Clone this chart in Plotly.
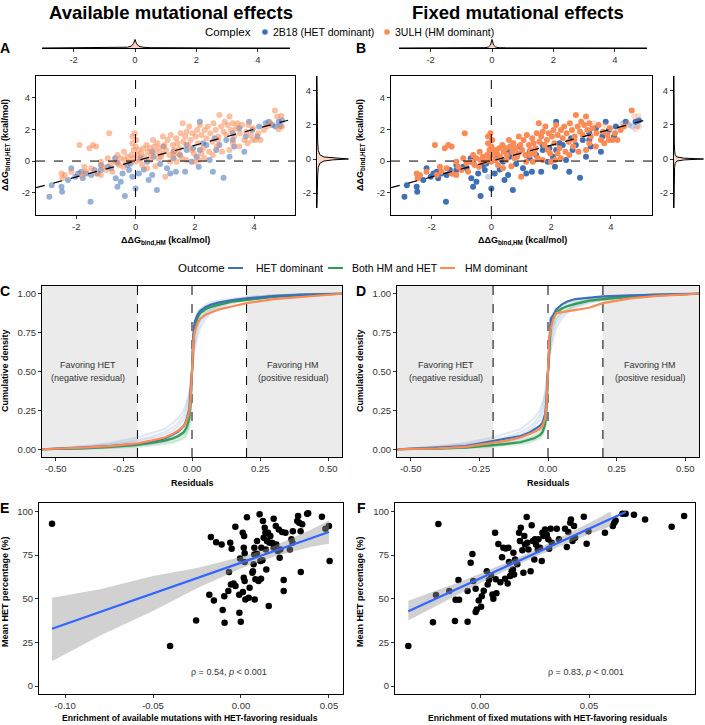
import plotly.graph_objects as go

# ---------------- DATA ----------------
# Panel A/B scatter: ddG_bind,HM (x) vs ddG_bind,HET (y)
blue_x = [-2.91, -2.83, -2.48, -2.5, -2.28, -2.17, -2.03, -1.83, -1.67, -1.52, -1.5, -1.28, -1.17, -0.94, -0.83,
          -0.69, -0.67, -0.61, -0.5, -0.44, -0.36, -0.22, -0.17, -0.11, 0.0, 0.11, 0.28, 0.44, 0.56, 0.72,
          0.83, 1.06, 1.17, 1.28, 1.36, 1.67, 1.72, 1.89, 2.06, 2.13, 2.17, 2.39, 2.5, 2.61, 2.67,
          2.72, 2.97, 3.06, 3.17, 3.28, 3.33, 3.5, 3.67, 3.72, 3.83, 3.94, 4.17, 4.39, 4.5, 4.61,
          4.72, 4.83, 4.94, 4.89, 0.94, 0.61, 1.5, 2.28, -0.28, 0.39, 1.28, 3.28, 2.83, 2.17, 4.11,
          1.72, -1.78, -1.39, -1.94, 0.17, 0.56, -0.61, -1.17, 1.94]
blue_y = [-2.25, -1.52, -1.94, -1.62, -1.2, -0.46, -0.99, -0.67, -0.78, -2.57, -0.88, -0.78, -0.57, -0.36, -0.46,
          0.17, -1.09, -1.62, -1.31, -0.78, -2.21, -0.57, -0.15, -0.99, -1.73, -0.78, -0.53, -1.2, -0.88, -1.83,
          -0.19, -0.46, -0.78, 0.17, -0.67, -0.67, 0.69, -0.04, 0.27, -0.36, 2.48, 1.01, 0.06, -0.67, 1.43,
          0.69, -1.05, 1.33, 0.27, 1.75, 0.91, 2.06, 0.59, 1.54, 2.48, 1.96, 2.17, 2.38, 2.48, 2.27,
          2.17, 2.48, 2.55, 2.21, 0.91, 0.27, 0.38, 1.12, -0.25, -0.04, 0.59, 1.33, 1.01, 0.69, 1.54,
          1.01, -1.09, -0.57, -0.78, 0.17, 0.59, -0.11, -0.25, 0.8]
orange_x = [-2.5, -2.47, -2.39, -2.17, -1.89, -1.83, -1.67, -1.56, -1.44, -1.33, -1.5, -1.33, -1.17, -1.11, -1.0,
            -0.89, -0.83, -0.78, -0.67, -0.56, -0.5, -0.41, -0.37, -0.28, -0.22, -0.14, -0.11, -0.08, -0.03, 0.0,
            0.06, 0.11, 0.14, 0.19, 0.26, 0.3, 0.37, 0.41, 0.48, 0.52, 0.59, 0.63, 0.7, 0.74, 0.81,
            0.86, 0.92, 0.97, 1.03, 1.08, 1.14, 1.19, 1.26, 1.3, 1.37, 1.41, 1.48, 1.52, 1.59, 1.61,
            1.67, 1.72, 1.78, 1.81, 1.86, 1.92, 1.97, 2.0, 2.03, 2.08, 2.11, 2.17, 2.22, 2.28, 2.33,
            2.39, 2.44, 2.48, 2.52, 2.59, 2.63, 2.7, 2.74, 2.79, 2.83, 2.89, 2.92, 2.97, 3.01, 3.06,
            3.11, 3.17, 3.22, 3.28, 3.33, 3.39, 3.44, 3.52, 3.59, 3.67, 3.74, 3.81, 3.89, 3.97, 4.06,
            4.14, 4.22, 4.33, 4.44, 4.56, 4.7, 4.78, 4.92, 4.94, 4.83, 0.39, 0.67, 1.0, 1.17, 1.39,
            1.56, 1.72, 2.14, 2.33, 2.61, 3.17, 3.5, 0.22, 0.5, 0.89, 0.78, 1.28, 1.44, 1.89, 2.22,
            2.78, 3.28, 3.78, 3.94, -0.39, -0.61, -0.94, -1.17, -1.72, -0.06, 0.0, -0.11, 0.03]
orange_y = [-0.78, -1.09, -0.88, -0.67, 1.01, -0.88, -0.67, 0.8, 1.01, 0.91, -0.46, -0.78, -0.88, -0.36, -0.57,
            1.75, -0.15, -0.67, -0.04, -0.25, 0.17, -0.36, 0.06, 0.27, -0.04, 0.38, 1.54, 0.17, 1.75, -0.04,
            0.38, 0.69, 0.06, 0.48, 0.8, 0.27, 1.01, 0.59, 0.8, 0.38, 1.33, 0.91, 0.59, 1.12, 0.8,
            0.27, 1.54, 1.01, 0.69, 1.33, 0.38, 1.64, 1.01, 0.69, 1.43, 1.12, 0.8, 1.75, 2.38, 1.22,
            1.54, 1.85, 1.01, 2.17, 1.33, 1.75, 0.48, -0.04, 1.54, 1.96, 1.12, 2.27, 1.64, 0.8, 1.96,
            1.43, 2.17, 0.59, 1.75, 1.22, 2.38, 1.96, 0.91, 1.54, 2.91, 2.17, 0.59, 1.85, 2.48, 1.64,
            2.27, 2.8, 1.96, 2.38, 1.54, 2.06, 2.38, 1.75, 2.27, 1.33, 1.85, 2.27, 1.64, 2.06, 1.33,
            1.75, 1.33, 1.96, 2.17, 2.38, 3.18, 2.8, 2.84, 2.17, 2.0, -0.46, -0.32, -0.99, -0.04, -0.04,
            0.17, 0.06, 0.06, 0.17, 0.38, 0.69, 0.91, -0.25, 0.06, 0.48, 0.17, 0.38, 0.48, 0.69, 0.48,
            1.33, 1.12, 1.12, 1.33, 0.59, 0.38, 0.17, -0.04, -0.36, 0.69, 0.91, 1.12, 1.33]
# points shown faded in panel B (not fixed)
faded_blue = [23, 57, 59, 60, 63]
faded_orange = [96, 101, 109, 111, 112, 113, 114]
diag_x = [-3.36, 5.38]
diag_y = [-1.68, 2.69]

# marginal densities (residual distributions)
margA_grid_x = [-3.03, -2.0, -1.0, -0.5, -0.25, -0.12, -0.05, 0.0, 0.05, 0.12, 0.25, 0.5, 1.0, 2.0, 3.0, 4.0, 5.05]
margA_grid_y = [-2.88, -2.0, -1.0, -0.5, -0.25, -0.12, -0.05, 0.0, 0.05, 0.12, 0.25, 0.5, 1.0, 2.0, 3.0, 4.0, 4.88]
margA_dens = [0.0, 0.005, 0.02, 0.04, 0.09, 0.22, 0.5, 1.0, 0.5, 0.22, 0.09, 0.04, 0.02, 0.01, 0.005, 0.0, 0.0]
margB_dens = [0.0, 0.003, 0.01, 0.02, 0.04, 0.1, 0.35, 1.0, 0.35, 0.1, 0.04, 0.02, 0.01, 0.005, 0.002, 0.0, 0.0]

# Panels C/D: cumulative density of residuals
resid = [-0.55, -0.5, -0.4, -0.3, -0.2, -0.15, -0.1, -0.07, -0.05, -0.03, -0.02, -0.01, -0.005, 0.0,
         0.005, 0.01, 0.02, 0.03, 0.05, 0.07, 0.1, 0.15, 0.2, 0.3, 0.4, 0.5, 0.55]
C_het = [0, 0.002, 0.01, 0.02, 0.035, 0.05, 0.07, 0.095, 0.115, 0.15, 0.19, 0.26, 0.36, 0.5,
         0.74, 0.82, 0.865, 0.89, 0.915, 0.93, 0.945, 0.96, 0.97, 0.985, 0.993, 0.998, 1.0]
C_both = [0, 0.001, 0.006, 0.015, 0.028, 0.04, 0.055, 0.07, 0.085, 0.11, 0.14, 0.2, 0.3, 0.5,
          0.7, 0.79, 0.845, 0.875, 0.9, 0.915, 0.93, 0.95, 0.96, 0.98, 0.99, 0.997, 1.0]
C_hm = [0, 0.002, 0.01, 0.02, 0.038, 0.055, 0.075, 0.1, 0.12, 0.15, 0.18, 0.24, 0.33, 0.5,
        0.7, 0.76, 0.81, 0.84, 0.865, 0.88, 0.9, 0.92, 0.94, 0.965, 0.98, 0.995, 1.0]
D_het = [0, 0.003, 0.01, 0.02, 0.053, 0.068, 0.085, 0.105, 0.127, 0.15, 0.17, 0.23, 0.33, 0.5,
         0.76, 0.84, 0.865, 0.9, 0.93, 0.95, 0.966, 0.975, 0.983, 0.99, 0.995, 0.999, 1.0]
D_both = [0, 0.001, 0.004, 0.01, 0.025, 0.035, 0.045, 0.058, 0.07, 0.09, 0.11, 0.16, 0.27, 0.5,
          0.7, 0.8, 0.86, 0.88, 0.905, 0.92, 0.935, 0.955, 0.965, 0.98, 0.99, 0.998, 1.0]
D_hm = [0, 0.002, 0.005, 0.015, 0.04, 0.055, 0.075, 0.095, 0.11, 0.13, 0.15, 0.2, 0.3, 0.5,
        0.72, 0.78, 0.84, 0.876, 0.882, 0.886, 0.895, 0.91, 0.94, 0.97, 0.987, 0.998, 1.0]
# faint per-complex curves
faint_het = [
    [0, 0.004, 0.015, 0.03, 0.06, 0.08, 0.11, 0.14, 0.17, 0.22, 0.27, 0.34, 0.42, 0.5, 0.6, 0.68, 0.76, 0.81, 0.86, 0.89, 0.92, 0.95, 0.965, 0.985, 0.995, 1, 1],
    [0, 0.003, 0.012, 0.025, 0.05, 0.07, 0.095, 0.12, 0.15, 0.19, 0.23, 0.3, 0.38, 0.5, 0.65, 0.72, 0.79, 0.83, 0.88, 0.9, 0.93, 0.955, 0.97, 0.988, 0.996, 1, 1],
    [0, 0.002, 0.008, 0.018, 0.035, 0.05, 0.07, 0.09, 0.11, 0.14, 0.17, 0.23, 0.33, 0.5, 0.7, 0.78, 0.84, 0.87, 0.9, 0.92, 0.94, 0.96, 0.975, 0.99, 0.997, 1, 1],
    [0, 0.001, 0.005, 0.012, 0.025, 0.035, 0.05, 0.065, 0.08, 0.1, 0.13, 0.19, 0.3, 0.5, 0.75, 0.83, 0.88, 0.9, 0.93, 0.945, 0.955, 0.97, 0.98, 0.99, 0.998, 1, 1],
    [0, 0.005, 0.02, 0.04, 0.075, 0.1, 0.13, 0.17, 0.2, 0.25, 0.3, 0.37, 0.44, 0.5, 0.57, 0.64, 0.72, 0.78, 0.84, 0.88, 0.91, 0.94, 0.96, 0.982, 0.994, 1, 1],
]
faint_both = [
    [0, 0.001, 0.004, 0.01, 0.02, 0.03, 0.04, 0.05, 0.06, 0.08, 0.1, 0.15, 0.25, 0.5, 0.68, 0.76, 0.82, 0.86, 0.895, 0.915, 0.935, 0.955, 0.965, 0.985, 0.995, 1, 1],
    [0, 0.001, 0.005, 0.013, 0.025, 0.035, 0.05, 0.06, 0.075, 0.095, 0.12, 0.18, 0.28, 0.5, 0.72, 0.8, 0.86, 0.89, 0.91, 0.93, 0.945, 0.96, 0.97, 0.988, 0.997, 1, 1],
    [0, 0.002, 0.008, 0.018, 0.032, 0.045, 0.06, 0.075, 0.09, 0.12, 0.15, 0.21, 0.31, 0.5, 0.66, 0.74, 0.8, 0.84, 0.88, 0.9, 0.925, 0.95, 0.962, 0.983, 0.994, 1, 1],
    [0, 0.001, 0.003, 0.008, 0.015, 0.022, 0.032, 0.042, 0.055, 0.07, 0.09, 0.14, 0.24, 0.5, 0.7, 0.78, 0.85, 0.88, 0.905, 0.925, 0.94, 0.958, 0.968, 0.987, 0.996, 1, 1],
]

# Panel E: available-mutation enrichment vs mean HET %
E_x = [-0.1074, -0.0403, -0.0255, -0.018, -0.0171, -0.0154, -0.0141, -0.011, -0.0104, -0.0095, -0.0093, -0.0072,
       -0.0068, -0.0061, -0.0053, -0.0032, -0.0057, -0.0042, -0.0031, -0.001, -0.0009, -0.0001, -0.0005, 0.001,
       0.0018, 0.0016, 0.0021, 0.0021, 0.0016, 0.0021, 0.0011, 0.0025, 0.0034, 0.0044, 0.0049, 0.0065, 0.0068,
       0.0072, 0.0076, 0.0076, 0.0082, 0.0078, 0.0091, 0.0091, 0.01, 0.0106, 0.011, 0.0114, 0.0116, 0.0122,
       0.0125, 0.0129, 0.0135, 0.0139, 0.0141, 0.0144, 0.0148, 0.0154, 0.0158, 0.0163, 0.0167, 0.0177, 0.0186,
       0.0186, 0.0198, 0.0201, 0.0209, 0.0215, 0.022, 0.0224, 0.0234, 0.0243, 0.0243, 0.0253, 0.0278, 0.0287,
       0.0293, 0.0295, 0.032, 0.0325, 0.0331, 0.0339, 0.034, 0.0348, 0.0376, 0.0382, 0.046, 0.048, 0.05, 0.0504]
E_y = [92.9, 22.9, 37.6, 52.3, 85.3, 49.0, 82.4, 81.1, 43.5, 51.5, 36.3, 54.4,
       65.3, 82.1, 78.6, 91.2, 58.2, 58.8, 57.3, 52.3, 42.0, 36.8, 73.1, 87.8,
       85.9, 79.2, 76.0, 71.0, 62.0, 60.1, 53.8, 49.6, 96.6, 50.6, 56.3, 64.9, 65.8,
       69.7, 75.4, 79.2, 61.1, 49.6, 83.0, 75.8, 60.1, 98.3, 71.6, 61.5, 79.2, 72.0,
       94.5, 84.9, 90.6, 87.8, 78.2, 66.8, 83.0, 87.8, 45.8, 82.1, 85.9, 82.1, 95.8,
       79.2, 91.6, 81.1, 77.3, 89.7, 73.5, 78.2, 88.2, 60.7, 54.4, 87.8, 78.2, 84.0,
       82.1, 88.7, 94.5, 97.3, 93.5, 88.7, 65.3, 92.6, 98.7, 98.9, 97.0, 90.1, 91.6, 71.6]
E_line_x = [-0.1074, 0.05]
E_line_y = [32.8, 88.2]
E_band_x = [-0.1074, -0.08, -0.05, -0.025, 0.0, 0.01, 0.02, 0.03, 0.04, 0.05]
E_band_lo = [14.3, 29.0, 43.0, 56.0, 67.3, 71.2, 74.4, 77.2, 79.8, 81.5]
E_band_hi = [50.6, 55.5, 63.0, 67.6, 73.9, 77.0, 80.8, 85.2, 89.6, 94.8]

# Panel F: fixed-mutation enrichment vs mean HET %
F_x = [-0.0329, -0.0216, -0.0202, -0.0191, -0.0141, -0.0115, -0.0112, -0.0096, -0.0099, -0.0057, -0.0057, -0.0043,
       -0.0035, -0.0031, -0.002, -0.002, -0.0015, -0.0006, 0.0005, 0.0008, 0.0017, 0.0031, 0.0035, 0.0041, 0.005,
       0.0057, 0.0061, 0.0069, 0.0072, 0.0075, 0.0084, 0.0093, 0.0101, 0.0107, 0.0115, 0.0118, 0.0127, 0.013,
       0.0133, 0.0138, 0.0145, 0.0151, 0.0153, 0.0156, 0.0161, 0.0171, 0.0179, 0.0183, 0.0187, 0.0194, 0.0199,
       0.0203, 0.0206, 0.0214, 0.0217, 0.0222, 0.0232, 0.0237, 0.0243, 0.0249, 0.0252, 0.0257, 0.0265, 0.0268,
       0.0275, 0.0283, 0.0286, 0.0291, 0.0298, 0.0306, 0.0313, 0.0317, 0.0324, 0.0329, 0.0352, 0.0362, 0.039,
       0.0398, 0.0405, 0.0414, 0.0417, 0.0424, 0.0431, 0.0436, 0.0476, 0.0489, 0.0497, 0.0573, 0.0609, 0.0616,
       0.0622, 0.0653, 0.0668, 0.0706, 0.0757, 0.0879, 0.0936]
F_y = [22.9, 36.6, 52.2, 92.8, 54.4, 37.3, 49.4, 49.4, 60.7, 54.4, 36.8, 70.6,
       75.6, 60.1, 55.7, 42.4, 43.9, 49.0, 45.4, 51.5, 54.6, 65.8, 58.2, 60.7, 63.4,
       52.5, 50.0, 87.8, 61.1, 53.1, 81.3, 59.5, 73.7, 79.2, 61.5, 78.8, 58.8, 79.2,
       71.0, 63.0, 65.8, 66.8, 76.3, 63.9, 72.5, 69.7, 87.8, 83.0, 90.6, 77.7, 64.9,
       85.9, 81.1, 96.8, 82.1, 78.2, 65.8, 92.0, 83.0, 72.5, 84.0, 81.1, 78.2, 84.0,
       79.2, 71.6, 87.8, 85.9, 89.7, 86.8, 84.0, 78.6, 90.1, 82.1, 90.1, 84.0, 90.1,
       79.6, 88.2, 93.5, 95.4, 83.0, 91.6, 84.9, 96.9, 81.5, 88.7, 87.8, 91.6, 93.5,
       94.8, 98.7, 98.7, 98.1, 95.4, 91.2, 97.3]
F_line_x = [-0.0329, 0.0668]
F_line_y = [42.9, 99.6]
F_band_x = [-0.0329, -0.02, -0.01, 0.0, 0.01, 0.02, 0.03, 0.04, 0.05, 0.06]
F_band_lo = [37.5, 45.8, 52.5, 58.9, 65.0, 71.0, 76.5, 81.8, 86.9, 91.5]
F_band_hi = [48.8, 54.6, 59.3, 64.3, 69.6, 75.0, 80.9, 87.0, 93.3, 100.0]

# ---------------- STYLE ----------------
W, H = 705, 725
FONT = "Liberation Sans, Arial, Helvetica, sans-serif"
BLUE = "#3F70B6"
ORANGE = "#FB8A55"
GREEN = "#2E9E55"
TXT = "#333333"


def dx(a, b):
    return [a / W, b / W]


def dy(top, bottom):
    return [1 - bottom / H, 1 - top / H]


fig = go.Figure()

# ---- Panel A main ----
fig.add_trace(go.Scatter(x=blue_x, y=blue_y, mode="markers", xaxis="x", yaxis="y",
                         marker=dict(color=BLUE, size=6, opacity=0.55, line=dict(width=0)), showlegend=False))
fig.add_trace(go.Scatter(x=orange_x, y=orange_y, mode="markers", xaxis="x", yaxis="y",
                         marker=dict(color=ORANGE, size=6, opacity=0.55, line=dict(width=0)), showlegend=False))
fig.add_trace(go.Scatter(x=diag_x, y=diag_y, mode="lines", xaxis="x", yaxis="y",
                         line=dict(color="black", width=1.2, dash="dash"), showlegend=False))
# ---- Panel B main ----
fig.add_trace(go.Scatter(x=blue_x, y=blue_y, mode="markers", xaxis="x4", yaxis="y4",
                         marker=dict(color=BLUE, size=6, line=dict(width=0),
                                     opacity=[0.3 if i in faded_blue else 1.0 for i in range(len(blue_x))]),
                         showlegend=False))
fig.add_trace(go.Scatter(x=orange_x, y=orange_y, mode="markers", xaxis="x4", yaxis="y4",
                         marker=dict(color=ORANGE, size=6, line=dict(width=0),
                                     opacity=[0.3 if i in faded_orange else 1.0 for i in range(len(orange_x))]),
                         showlegend=False))
fig.add_trace(go.Scatter(x=diag_x, y=diag_y, mode="lines", xaxis="x4", yaxis="y4",
                         line=dict(color="black", width=1.2, dash="dash"), showlegend=False))

# ---- marginals ----
for dens, xa_top, ya_top, xa_r, ya_r in [(margA_dens, "x2", "y2", "x3", "y3"),
                                          (margB_dens, "x5", "y5", "x6", "y6")]:
    fig.add_trace(go.Scatter(x=margA_grid_x, y=dens, mode="lines", xaxis=xa_top, yaxis=ya_top,
                             fill="tozeroy", fillcolor="rgba(251,138,85,0.35)",
                             line=dict(color="black", width=1), showlegend=False))
    fig.add_trace(go.Scatter(x=dens, y=margA_grid_y, mode="lines", xaxis=xa_r, yaxis=ya_r,
                             fill="tozerox", fillcolor="rgba(251,138,85,0.35)",
                             line=dict(color="black", width=1), showlegend=False))

# ---- Panels C & D ----
for xa, ya, het, both, hm in [("x7", "y7", C_het, C_both, C_hm), ("x8", "y8", D_het, D_both, D_hm)]:
    for curve in faint_het:
        fig.add_trace(go.Scatter(x=resid, y=curve, mode="lines", xaxis=xa, yaxis=ya,
                                 line=dict(color="rgba(63,112,182,0.16)", width=2), showlegend=False))
    for curve in faint_both:
        fig.add_trace(go.Scatter(x=resid, y=curve, mode="lines", xaxis=xa, yaxis=ya,
                                 line=dict(color="rgba(46,158,85,0.16)", width=2), showlegend=False))
    fig.add_trace(go.Scatter(x=resid, y=both, mode="lines", xaxis=xa, yaxis=ya,
                             line=dict(color=GREEN, width=2.2), showlegend=False))
    fig.add_trace(go.Scatter(x=resid, y=het, mode="lines", xaxis=xa, yaxis=ya,
                             line=dict(color=BLUE, width=2.2), showlegend=False))
    fig.add_trace(go.Scatter(x=resid, y=hm, mode="lines", xaxis=xa, yaxis=ya,
                             line=dict(color=ORANGE, width=2.2), showlegend=False))

# ---- Panels E & F ----
for xa, ya, px_, py_, bx, blo, bhi, lx, ly in [
        ("x9", "y9", E_x, E_y, E_band_x, E_band_lo, E_band_hi, E_line_x, E_line_y),
        ("x10", "y10", F_x, F_y, F_band_x, F_band_lo, F_band_hi, F_line_x, F_line_y)]:
    fig.add_trace(go.Scatter(x=px_, y=py_, mode="markers", xaxis=xa, yaxis=ya,
                             marker=dict(color="black", size=6.5, line=dict(width=0)), showlegend=False))
    fig.add_trace(go.Scatter(x=bx + bx[::-1], y=bhi + blo[::-1], mode="lines", xaxis=xa, yaxis=ya,
                             fill="toself", fillcolor="rgba(153,153,153,0.45)",
                             line=dict(width=0), hoverinfo="skip", showlegend=False))
    fig.add_trace(go.Scatter(x=lx, y=ly, mode="lines", xaxis=xa, yaxis=ya,
                             line=dict(color="#3366FF", width=2.2), showlegend=False))

# ---------------- AXES ----------------
base = dict(showgrid=False, zeroline=False, showline=True, linecolor="black", linewidth=1,
            ticks="outside", ticklen=3, tickwidth=1, tickcolor=TXT,
            tickfont=dict(family=FONT, size=9.5, color=TXT))


def axis(**kw):
    d = dict(base)
    d.update(kw)
    return d


ab_ticks = dict(tickvals=[-2, 0, 2, 4], ticktext=["-2", "0", "2", "4"])
res_ticks = dict(tickvals=[-0.5, -0.25, 0, 0.25, 0.5], ticktext=["-0.50", "-0.25", "0.00", "0.25", "0.50"])
cum_ticks = dict(tickvals=[0, 0.25, 0.5, 0.75, 1], ticktext=["0.00", "0.25", "0.50", "0.75", "1.00"])
pct_ticks = dict(tickvals=[0, 25, 50, 75, 100], ticktext=["0", "25", "50", "75", "100"])

layout_axes = dict(
    # A
    xaxis=axis(domain=dx(36, 295), range=[-3.36, 5.38], anchor="y", mirror=True, **ab_ticks),
    yaxis=axis(domain=dy(76, 215), range=[-3.4, 5.36], anchor="x", mirror=True, **ab_ticks),
    xaxis2=axis(domain=dx(42, 290), range=[-3.03, 5.05], anchor="y2", **ab_ticks),
    yaxis2=dict(domain=dy(39, 48), range=[0, 1.05], anchor="x2", visible=False),
    xaxis3=dict(domain=dx(317, 350), range=[0, 1.05], anchor="y3", visible=False),
    yaxis3=axis(domain=dy(76, 208), range=[-2.88, 4.88], anchor="x3", side="left", **ab_ticks),
    # B
    xaxis4=axis(domain=dx(391, 652), range=[-3.36, 5.38], anchor="y4", mirror=True, **ab_ticks),
    yaxis4=axis(domain=dy(76, 215), range=[-3.4, 5.36], anchor="x4", mirror=True, **ab_ticks),
    xaxis5=axis(domain=dx(399, 647), range=[-3.03, 5.05], anchor="y5", **ab_ticks),
    yaxis5=dict(domain=dy(39, 48), range=[0, 1.05], anchor="x5", visible=False),
    xaxis6=dict(domain=dx(674, 705), range=[0, 1.05], anchor="y6", visible=False),
    yaxis6=axis(domain=dy(76, 208), range=[-2.88, 4.88], anchor="x6", side="left", **ab_ticks),
    # C, D
    xaxis7=axis(domain=dx(42, 342), range=[-0.55, 0.55], anchor="y7", mirror=True, **res_ticks),
    yaxis7=axis(domain=dy(286, 457), range=[-0.05, 1.05], anchor="x7", mirror=True, **cum_ticks),
    xaxis8=axis(domain=dx(397, 699), range=[-0.55, 0.55], anchor="y8", mirror=True, **res_ticks),
    yaxis8=axis(domain=dy(286, 457), range=[-0.05, 1.05], anchor="x8", mirror=True, **cum_ticks),
    # E, F
    xaxis9=axis(domain=dx(39, 343), range=[-0.1148, 0.058], anchor="y9", mirror=True,
                tickvals=[-0.1, -0.05, 0, 0.05], ticktext=["-0.10", "-0.05", "0.00", "0.05"]),
    yaxis9=axis(domain=dy(503, 694), range=[-4.5, 104.8], anchor="x9", mirror=True, **pct_ticks),
    xaxis10=axis(domain=dx(395, 695), range=[-0.039, 0.0986], anchor="y10", mirror=True,
                 tickvals=[0, 0.05], ticktext=["0.00", "0.05"]),
    yaxis10=axis(domain=dy(503, 694), range=[-4.5, 104.8], anchor="x10", mirror=True, **pct_ticks),
)

# ---------------- SHAPES ----------------
shapes = []
dash = dict(color="black", width=1, dash="dash")
for xa, ya in [("x", "y"), ("x4", "y4")]:
    shapes.append(dict(type="line", xref=xa + " domain", x0=0, x1=1, yref=ya, y0=0, y1=0, line=dash))
    shapes.append(dict(type="line", xref=xa, x0=0, x1=0, yref=ya + " domain", y0=0, y1=1, line=dash))
for xa, ya in [("x7", "y7"), ("x8", "y8")]:
    for x0, x1 in [(-0.55, -0.2), (0.2, 0.55)]:
        shapes.append(dict(type="rect", xref=xa, x0=x0, x1=x1, yref=ya + " domain", y0=0, y1=1,
                           fillcolor="#EBEBEB", line=dict(width=0), layer="below"))
    for xv in [-0.2, 0.0, 0.2]:
        shapes.append(dict(type="line", xref=xa, x0=xv, x1=xv, yref=ya + " domain", y0=0, y1=1,
                           line=dash, layer="below"))


def py(v):
    return 1 - v / H


def pxx(v):
    return v / W


# legend symbols (drawn manually)
for cx, col in [(265, BLUE), (387, ORANGE)]:
    shapes.append(dict(type="circle", xref="paper", yref="paper",
                       x0=pxx(cx - 2.8), x1=pxx(cx + 2.8), y0=py(32 + 2.8), y1=py(32 - 2.8),
                       fillcolor=col, line=dict(width=0)))
for x0, x1, col in [(228, 243, BLUE), (328, 343, GREEN), (440, 455, ORANGE)]:
    shapes.append(dict(type="line", xref="paper", yref="paper", x0=pxx(x0), x1=pxx(x1),
                       y0=py(268), y1=py(268), line=dict(color=col, width=2)))

# ---------------- ANNOTATIONS ----------------
ann = []


def text(t, x, y, size=9.5, color="black", xanchor="center", angle=0, bold=False):
    ann.append(dict(text=("<b>%s</b>" % t) if bold else t, x=pxx(x), y=py(y), xref="paper", yref="paper",
                    showarrow=False, xanchor=xanchor, yanchor="middle", textangle=angle,
                    font=dict(family=FONT, size=size, color=color)))


text("Available mutational effects", 171, 12, size=18.5, bold=True)
text("Fixed mutational effects", 518, 12, size=18.5, bold=True)
# legend texts
text("Complex", 203, 32, size=11.5, xanchor="left")
text("2B18 (HET dominant)", 271, 32, size=10.5, xanchor="left")
text("3ULH (HM dominant)", 393, 32, size=10.5, xanchor="left")
text("Outcome", 176, 268, size=11.5, xanchor="left")
text("HET dominant", 254, 268, size=10.5, xanchor="left")
text("Both HM and HET", 350, 268, size=10.5, xanchor="left")
text("HM dominant", 463, 268, size=10.5, xanchor="left")
# panel letters
for L, x, y in [("A", 5, 48), ("B", 361, 48), ("C", 5, 291), ("D", 361, 291), ("E", 4, 508), ("F", 361, 508)]:
    text(L, x, y, size=14, bold=True)
# axis titles
for xc in (6, 361):
    text("ΔΔG<sub>bind,HET</sub> (kcal/mol)", xc, 145, size=9, angle=-90, bold=True)
    text("Cumulative density", xc - 1, 371, size=9, angle=-90, bold=True)
    text("Mean HET percentage (%)", xc - 1, 592, size=9, angle=-90, bold=True)
text("ΔΔG<sub>bind,HM</sub> (kcal/mol)", 165, 241, size=9, bold=True)
text("ΔΔG<sub>bind,HM</sub> (kcal/mol)", 522, 241, size=9, bold=True)
text("Residuals", 192, 483, size=9, bold=True)
text("Residuals", 548, 483, size=9, bold=True)
text("Enrichment of available mutations with HET-favoring residuals", 190, 718, size=8.6, bold=True)
text("Enrichment of fixed mutations with HET-favoring residuals", 547, 718, size=8.6, bold=True)
# region labels C/D (one annotation per line)
for cx_l, cx_r in [(88, 293), (446, 650)]:
    text("Favoring HET", cx_l, 365, size=9, color=TXT)
    text("(negative residual)", cx_l, 378, size=9, color=TXT)
    text("Favoring HM", cx_r, 365, size=9, color=TXT)
    text("(positive residual)", cx_r, 378, size=9, color=TXT)
# correlation labels
text("ρ = 0.54, <i>p</i> &lt; 0.001", 229, 672, size=9, color=TXT)
text("ρ = 0.83, <i>p</i> &lt; 0.001", 586, 672, size=9, color=TXT)

fig.update_layout(width=W, height=H, margin=dict(l=0, r=0, t=0, b=0),
                  paper_bgcolor="white", plot_bgcolor="white", showlegend=False,
                  font=dict(family=FONT), shapes=shapes, annotations=ann, **layout_axes)

fig.write_html("out.html", config={"staticPlot": True, "displayModeBar": False},
               post_script="document.body.style.margin='0';document.body.style.padding='0';"
                           "document.documentElement.style.overflow='hidden';")
